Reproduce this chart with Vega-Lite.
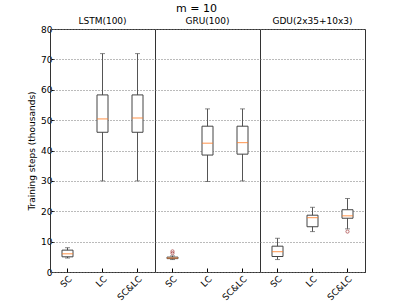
{
  "$schema": "https://vega.github.io/schema/vega-lite/v6.json",
  "padding": {"left": 27, "top": 3, "right": 41, "bottom": 5},
  "bounds": "flush",
  "title": {"text": "m = 10", "anchor": "middle", "fontSize": 11, "fontWeight": "normal", "font": "DejaVu Sans", "color": "black", "offset": 3},
  "data": {"values": [
    {"model": "LSTM(100)", "cond": "SC", "min": 4.6, "q1": 5.0, "median": 6.0, "q3": 7.2, "max": 8.0},
    {"model": "LSTM(100)", "cond": "LC", "min": 30.0, "q1": 46.0, "median": 50.4, "q3": 58.3, "max": 71.9},
    {"model": "LSTM(100)", "cond": "SC&LC", "min": 30.0, "q1": 46.0, "median": 50.7, "q3": 58.3, "max": 71.9},
    {"model": "GRU(100)", "cond": "SC", "min": 4.1, "q1": 4.4, "median": 4.6, "q3": 4.9, "max": 5.3},
    {"model": "GRU(100)", "cond": "LC", "min": 29.8, "q1": 38.5, "median": 42.4, "q3": 48.0, "max": 53.7},
    {"model": "GRU(100)", "cond": "SC&LC", "min": 30.0, "q1": 38.8, "median": 42.6, "q3": 48.0, "max": 53.7},
    {"model": "GDU(2x35+10x3)", "cond": "SC", "min": 4.1, "q1": 5.1, "median": 6.7, "q3": 8.5, "max": 11.1},
    {"model": "GDU(2x35+10x3)", "cond": "LC", "min": 13.3, "q1": 14.9, "median": 17.9, "q3": 18.7, "max": 21.3},
    {"model": "GDU(2x35+10x3)", "cond": "SC&LC", "min": 14.2, "q1": 17.7, "median": 18.5, "q3": 20.5, "max": 24.2},
    {"model": "GRU(100)", "cond": "SC", "outlier": 6.2},
    {"model": "GRU(100)", "cond": "SC", "outlier": 6.8},
    {"model": "GDU(2x35+10x3)", "cond": "SC&LC", "outlier": 13.3}
  ]},
  "facet": {
    "column": {
      "field": "model",
      "sort": ["LSTM(100)", "GRU(100)", "GDU(2x35+10x3)"],
      "header": {"title": null, "labelFontSize": 9, "labelFont": "DejaVu Sans", "labelColor": "black", "labelPadding": 3}
    }
  },
  "spacing": 0,
  "spec": {
    "width": 105,
    "height": 243,
    "encoding": {
      "x": {
        "field": "cond", "type": "nominal", "sort": ["SC", "LC", "SC&LC"],
        "scale": {"paddingInner": 0, "paddingOuter": 0},
        "axis": {"title": null, "labelAngle": -45, "labelAlign": "right", "labelBaseline": "top", "tickSize": -4, "labelPadding": 6, "grid": false}
      }
    },
    "layer": [
      {
        "transform": [{"filter": "datum.median != null"}],
        "mark": {"type": "rule", "color": "#555555", "strokeWidth": 1},
        "encoding": {
          "y": {"field": "min", "type": "quantitative", "scale": {"domain": [0, 80], "nice": false},
            "axis": {"title": "Training steps (thousands)", "values": [0, 10, 20, 30, 40, 50, 60, 70, 80], "labelOverlap": false, "tickSize": -4, "gridDash": [1, 2], "gridColor": "#777777", "grid": true}},
          "y2": {"field": "max"}
        }
      },
      {
        "transform": [{"filter": "datum.median != null"}],
        "mark": {"type": "tick", "color": "#555555", "size": 5, "thickness": 1},
        "encoding": {"y": {"field": "min", "type": "quantitative",
            "axis": {"title": "Training steps (thousands)", "values": [0, 10, 20, 30, 40, 50, 60, 70, 80], "labelOverlap": false, "tickSize": -4, "gridDash": [1, 2], "gridColor": "#777777", "grid": true}}}
      },
      {
        "transform": [{"filter": "datum.median != null"}],
        "mark": {"type": "tick", "color": "#555555", "size": 5, "thickness": 1},
        "encoding": {"y": {"field": "max", "type": "quantitative",
            "axis": {"title": "Training steps (thousands)", "values": [0, 10, 20, 30, 40, 50, 60, 70, 80], "labelOverlap": false, "tickSize": -4, "gridDash": [1, 2], "gridColor": "#777777", "grid": true}}}
      },
      {
        "transform": [{"filter": "datum.median != null"}],
        "mark": {"type": "bar", "size": 11, "fill": "white", "stroke": "#444444", "strokeWidth": 1},
        "encoding": {"y": {"field": "q1", "type": "quantitative",
            "axis": {"title": "Training steps (thousands)", "values": [0, 10, 20, 30, 40, 50, 60, 70, 80], "labelOverlap": false, "tickSize": -4, "gridDash": [1, 2], "gridColor": "#777777", "grid": true}}, "y2": {"field": "q3"}}
      },
      {
        "transform": [{"filter": "datum.median != null"}],
        "mark": {"type": "tick", "color": "#ff7f2a", "size": 11, "thickness": 1.2},
        "encoding": {"y": {"field": "median", "type": "quantitative",
            "axis": {"title": "Training steps (thousands)", "values": [0, 10, 20, 30, 40, 50, 60, 70, 80], "labelOverlap": false, "tickSize": -4, "gridDash": [1, 2], "gridColor": "#777777", "grid": true}}}
      },
      {
        "transform": [{"filter": "datum.outlier != null"}],
        "mark": {"type": "point", "shape": "circle", "filled": false, "stroke": "#a03030", "size": 10, "strokeWidth": 1},
        "encoding": {"y": {"field": "outlier", "type": "quantitative",
            "axis": {"title": "Training steps (thousands)", "values": [0, 10, 20, 30, 40, 50, 60, 70, 80], "labelOverlap": false, "tickSize": -4, "gridDash": [1, 2], "gridColor": "#777777", "grid": true}}}
      }
    ]
  },
  "config": {
    "font": "DejaVu Sans",
    "view": {"stroke": "#333333", "strokeWidth": 1},
    "axis": {"labelFontSize": 9, "titleFontSize": 9, "titleFontWeight": "normal", "labelColor": "black", "titleColor": "black", "domainColor": "black", "tickColor": "black", "labelFont": "DejaVu Sans", "titleFont": "DejaVu Sans"}
  }
}
